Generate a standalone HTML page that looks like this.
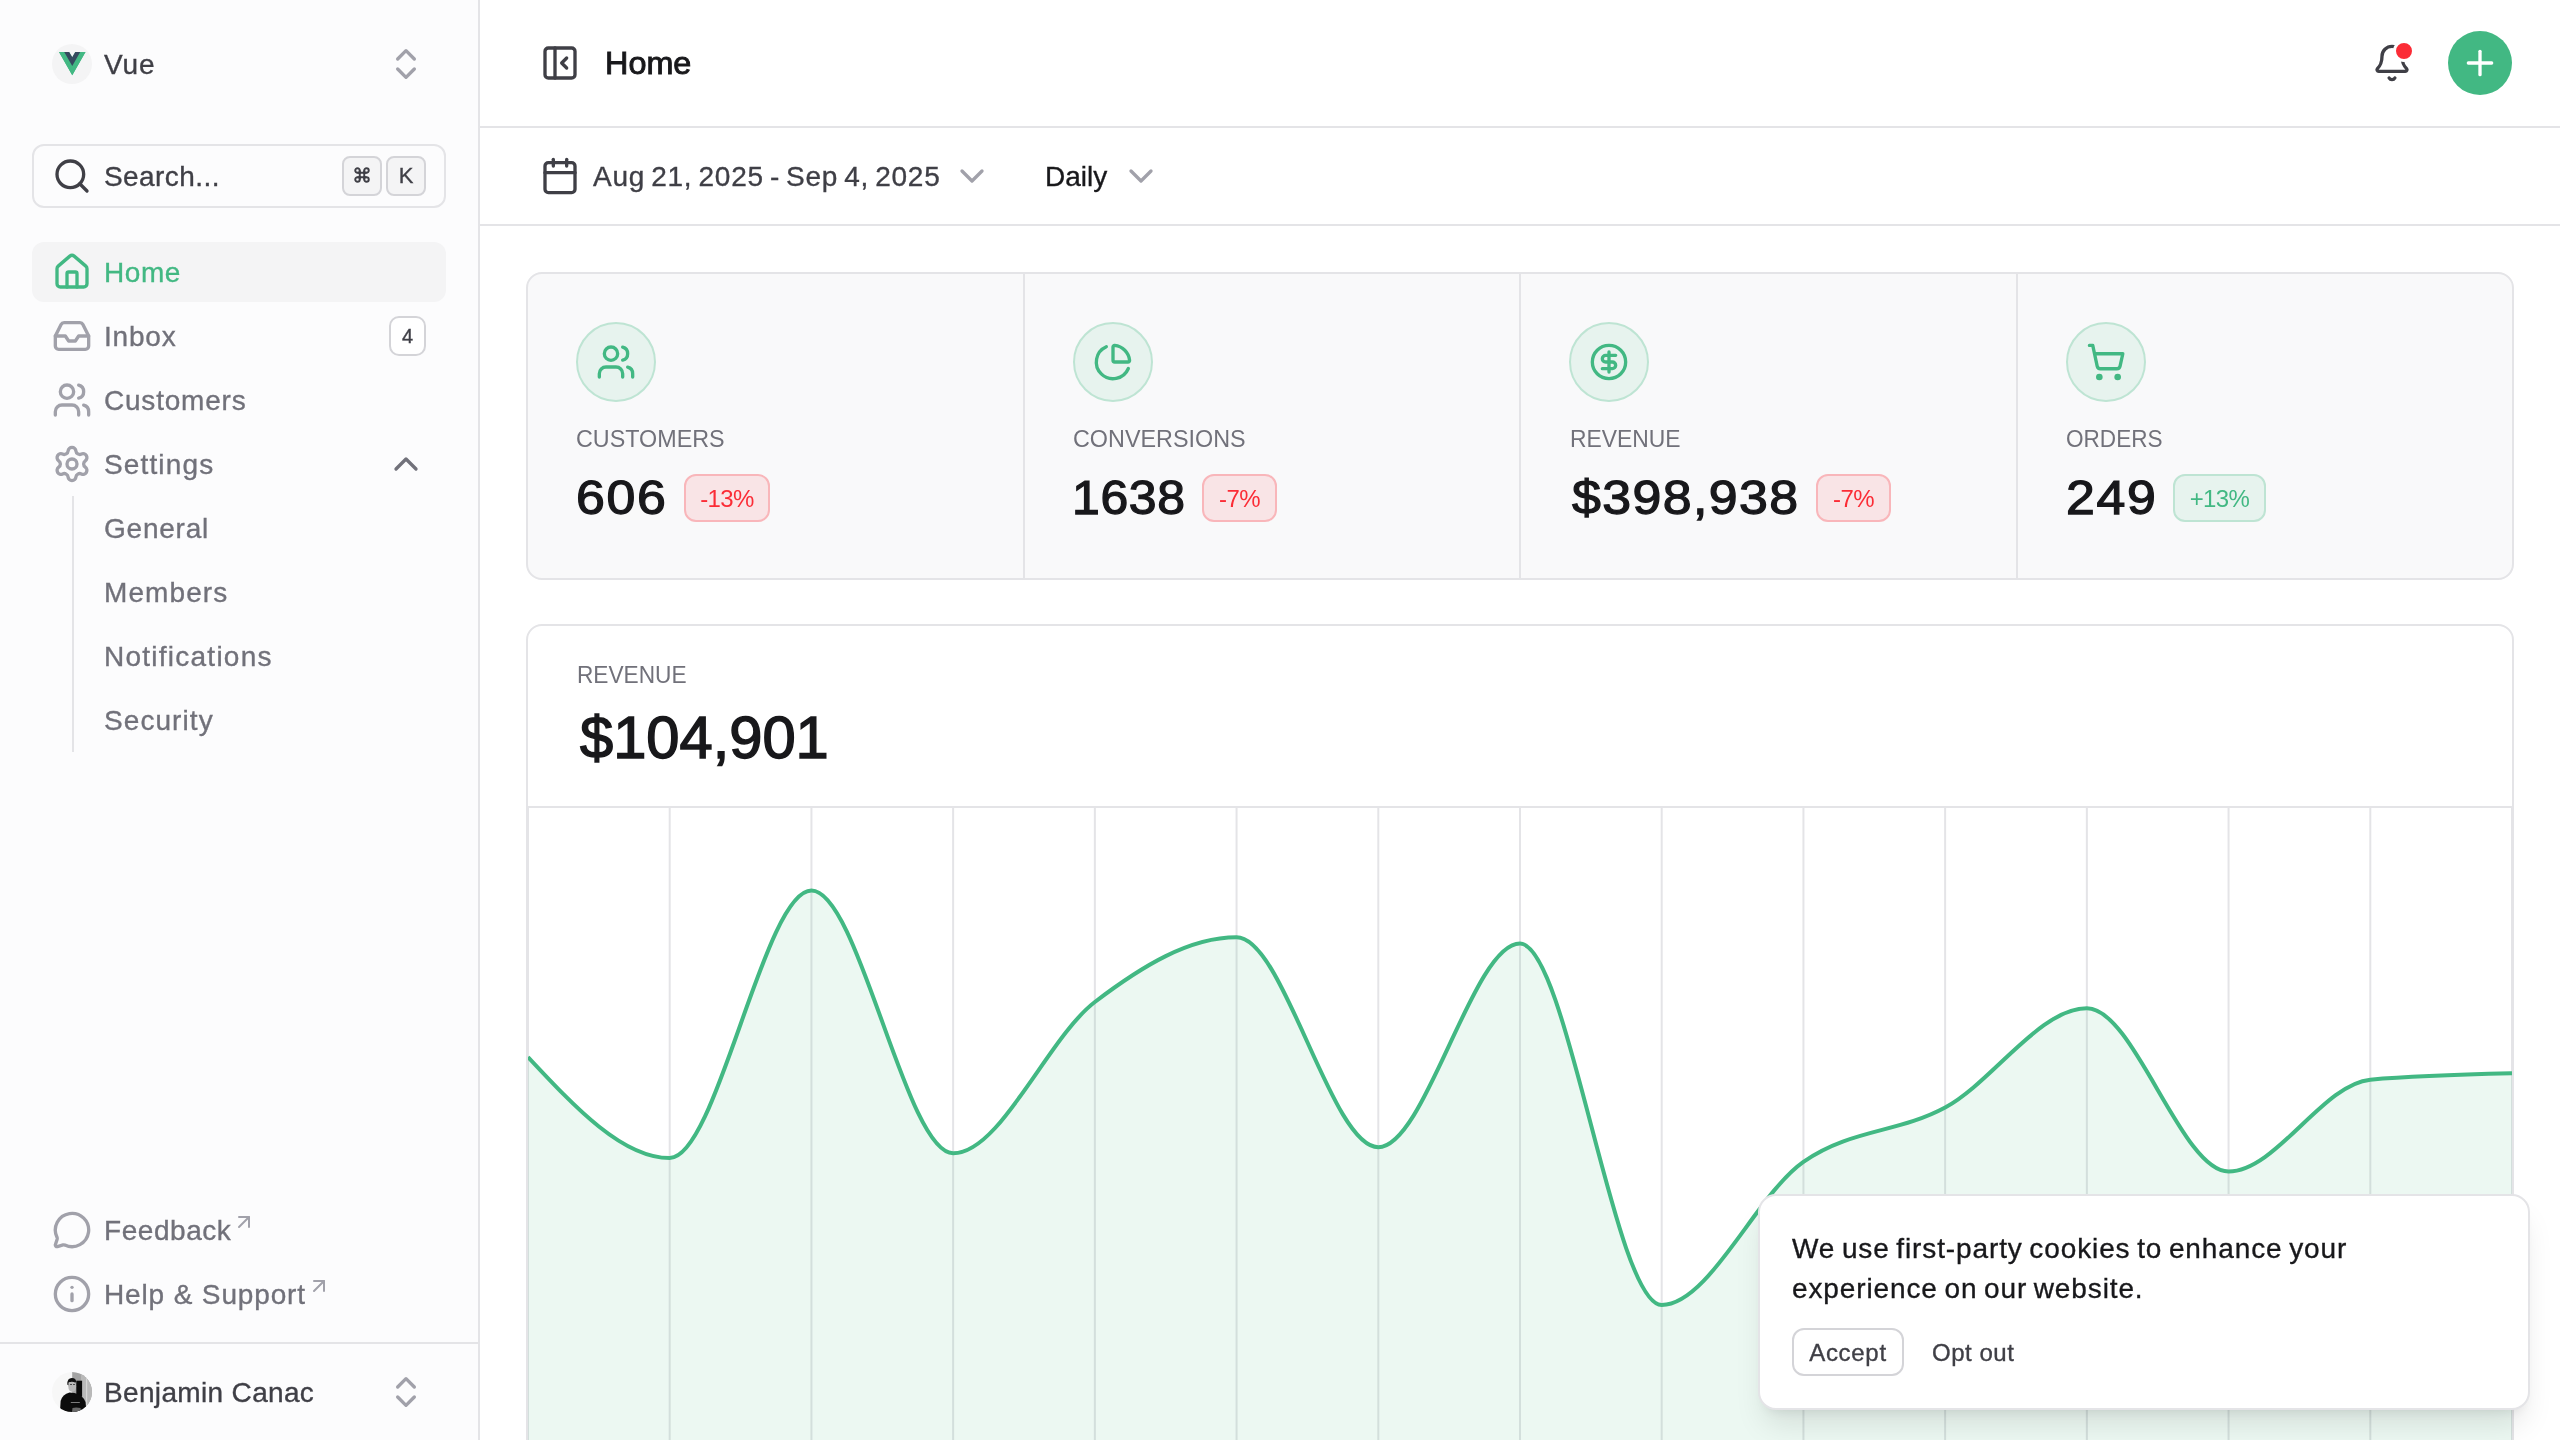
<!DOCTYPE html>
<html lang="en">
<head>
<meta charset="utf-8">
<title>Home</title>
<style>
*{box-sizing:border-box;margin:0;padding:0}
html,body{width:2560px;height:1440px;overflow:hidden;background:#fff}
body{font-family:"Liberation Sans",sans-serif;color:#3f3f46;position:relative;-webkit-font-smoothing:antialiased}
.abs{position:absolute}
svg.i{position:absolute;width:40px;height:40px;fill:none;stroke:currentColor;stroke-width:2;stroke-linecap:round;stroke-linejoin:round}
.t28{position:absolute;font-size:28px;line-height:40px;white-space:nowrap;margin-top:1px}
.med{-webkit-text-stroke:0.35px currentColor}
#sb{position:absolute;left:0;top:0;width:480px;height:1440px;background:#fcfcfd;border-right:2px solid #e4e4e7}
.navtxt{color:#71717a}
.navico{color:#a1a1aa}
.kbd{position:absolute;top:156px;width:40px;height:40px;background:#f4f4f5;border:2px solid #d4d4d8;border-radius:8px;font-size:22px;line-height:36px;text-align:center;color:#3f3f46}
#main{position:absolute;left:480px;top:0;width:2080px;height:1440px;background:#fff}
.hline{position:absolute;height:2px;background:#e4e4e7}
.card{position:absolute}
.lbl{position:absolute;transform-origin:0 50%;font-size:24px;line-height:32px;color:#71717a;white-space:nowrap;text-transform:uppercase}
.val{position:absolute;transform-origin:0 50%;font-size:48px;line-height:64px;font-weight:400;-webkit-text-stroke:1.25px #18181b;color:#18181b;white-space:nowrap}
.badge{position:absolute;top:474px;height:48px;border-radius:12px;font-size:24px;line-height:46px;text-align:center;border:2px solid;white-space:nowrap;letter-spacing:-0.6px}
.bred{background:#f9e4e6;border-color:#f9b6ba;color:#fb2c36}
.bgrn{background:#e7f3ee;border-color:#bee4d3;color:#42b883}
.icirc{position:absolute;top:322px;width:80px;height:80px;border-radius:50%;background:#e7f3ee;border:2px solid #bee4d3;color:#42b883}
.icirc svg.i{left:18px;top:18px}
@media (max-width:1400px){html,body{width:1280px;height:720px}#root{zoom:0.5}}
</style>
</head>
<body>
<div id="root" style="position:absolute;left:0;top:0;width:2560px;height:1440px;will-change:transform">
<!-- SIDEBAR -->
<div id="sb">
  <!-- team -->
  <div class="abs" style="left:52px;top:44px;width:40px;height:40px;border-radius:50%;background:#f4f4f5"></div>
  <svg class="abs" style="left:58.6px;top:52px;overflow:visible" width="26.5" height="23.2" viewBox="0 0 256 221" preserveAspectRatio="none"><path fill="#42b883" d="M204.8 0H256L128 220.8L0 0h97.92L128 51.2L157.44 0h47.36Z"/><path fill="#42b883" d="m0 0l128 220.8L256 0h-51.2L128 132.48L50.56 0H0Z"/><path fill="#35495e" d="M50.56 0L128 133.12L204.8 0h-47.36L128 51.2L97.92 0H50.56Z"/></svg>
  <div class="t28 med" style="left:104px;top:44px;color:#3f3f46;letter-spacing:0.85px">Vue</div>
  <svg class="i" style="left:386px;top:44px;color:#a1a1aa" viewBox="0 0 24 24"><path d="m7 15 5 5 5-5"/><path d="m7 9 5-5 5 5"/></svg>

  <!-- search -->
  <div class="abs" style="left:32px;top:144px;width:414px;height:64px;border:2px solid #e4e4e7;border-radius:12px"></div>
  <svg class="i" style="left:52px;top:156px;color:#3f3f46" viewBox="0 0 24 24"><path d="m21 21-4.34-4.34"/><circle cx="11" cy="11" r="8"/></svg>
  <div class="t28 med" style="left:104px;top:156px;color:#3f3f46;letter-spacing:0.43px">Search...</div>
  <div class="kbd" style="left:342px"><svg style="position:absolute;left:9px;top:8px" width="18" height="18" viewBox="0 0 24 24" fill="none" stroke="#3f3f46" stroke-width="2.6"><path d="M9 6v12M15 6v12M6 9h12M6 15h12"/><path d="M9 9H6a3 3 0 1 1 3-3zM15 9V6a3 3 0 1 1 3 3zM15 15h3a3 3 0 1 1-3 3zM9 15v3a3 3 0 1 1-3-3z"/></svg></div>
  <div class="kbd med" style="left:386px">K</div>

  <!-- nav -->
  <div class="abs" style="left:32px;top:242px;width:414px;height:60px;background:#f4f4f5;border-radius:12px"></div>
  <svg class="i" style="left:52px;top:252px;color:#42b883" viewBox="0 0 24 24"><path d="M15 21v-8a1 1 0 0 0-1-1h-4a1 1 0 0 0-1 1v8"/><path d="M3 10a2 2 0 0 1 .709-1.528l7-5.999a2 2 0 0 1 2.582 0l7 5.999A2 2 0 0 1 21 10v9a2 2 0 0 1-2 2H5a2 2 0 0 1-2-2z"/></svg>
  <div class="t28 med" style="left:104px;top:252px;color:#42b883;letter-spacing:0.58px">Home</div>

  <svg class="i navico" style="left:52px;top:316px" viewBox="0 0 24 24"><polyline points="22 12 16 12 14 15 10 15 8 12 2 12"/><path d="M5.45 5.11 2 12v6a2 2 0 0 0 2 2h16a2 2 0 0 0 2-2v-6l-3.45-6.89A2 2 0 0 0 16.76 4H7.24a2 2 0 0 0-1.79 1.11z"/></svg>
  <div class="t28 navtxt med" style="left:104px;top:316px;letter-spacing:0.8px">Inbox</div>
  <div class="abs med" style="left:389px;top:316px;width:37px;height:40px;background:#fff;border:2px solid #d4d4d8;border-radius:10px;font-size:20px;line-height:36px;text-align:center;color:#3f3f46">4</div>

  <svg class="i navico" style="left:52px;top:380px" viewBox="0 0 24 24"><path d="M16 21v-2a4 4 0 0 0-4-4H6a4 4 0 0 0-4 4v2"/><path d="M16 3.128a4 4 0 0 1 0 7.744"/><path d="M22 21v-2a4 4 0 0 0-3-3.87"/><circle cx="9" cy="7" r="4"/></svg>
  <div class="t28 navtxt med" style="left:104px;top:380px;letter-spacing:0.79px">Customers</div>

  <svg class="i navico" style="left:52px;top:444px" viewBox="0 0 24 24"><path d="M9.671 4.136a2.34 2.34 0 0 1 4.659 0 2.34 2.34 0 0 0 3.319 1.915 2.34 2.34 0 0 1 2.33 4.033 2.34 2.34 0 0 0 0 3.831 2.34 2.34 0 0 1-2.33 4.033 2.34 2.34 0 0 0-3.319 1.915 2.34 2.34 0 0 1-4.659 0 2.34 2.34 0 0 0-3.32-1.915 2.34 2.34 0 0 1-2.33-4.033 2.34 2.34 0 0 0 0-3.831A2.34 2.34 0 0 1 6.35 6.051a2.34 2.34 0 0 0 3.319-1.915"/><circle cx="12" cy="12" r="3"/></svg>
  <div class="t28 navtxt med" style="left:104px;top:444px;letter-spacing:1.14px">Settings</div>
  <svg class="i" style="left:386px;top:444px;color:#71717a" viewBox="0 0 24 24"><path d="m18 15-6-6-6 6"/></svg>

  <div class="abs" style="left:72px;top:496px;width:2px;height:256px;background:#e4e4e7"></div>
  <div class="t28 navtxt med" style="left:104px;top:508px;letter-spacing:0.77px">General</div>
  <div class="t28 navtxt med" style="left:104px;top:572px;letter-spacing:1.1px">Members</div>
  <div class="t28 navtxt med" style="left:104px;top:636px;letter-spacing:1.25px">Notifications</div>
  <div class="t28 navtxt med" style="left:104px;top:700px;letter-spacing:1.07px">Security</div>

  <!-- footer links -->
  <svg class="i navico" style="left:52px;top:1210px" viewBox="0 0 24 24"><path d="M2.992 16.342a2 2 0 0 1 .094 1.167l-1.065 3.29a1 1 0 0 0 1.236 1.168l3.413-.998a2 2 0 0 1 1.099.092 10 10 0 1 0-4.777-4.719"/></svg>
  <div class="t28 navtxt med" style="left:104px;top:1210px;letter-spacing:0.55px">Feedback</div>
  <svg class="abs" style="left:232px;top:1210px;color:#a1a1aa" width="24" height="24" viewBox="0 0 24 24" fill="none" stroke="currentColor" stroke-width="2" stroke-linecap="round" stroke-linejoin="round"><path d="M7 7h10v10"/><path d="M7 17 17 7"/></svg>

  <svg class="i navico" style="left:52px;top:1274px" viewBox="0 0 24 24"><circle cx="12" cy="12" r="10"/><path d="M12 16v-4"/><path d="M12 8h.01"/></svg>
  <div class="t28 navtxt med" style="left:104px;top:1274px;letter-spacing:0.86px">Help &amp; Support</div>
  <svg class="abs" style="left:307px;top:1274px;color:#a1a1aa" width="24" height="24" viewBox="0 0 24 24" fill="none" stroke="currentColor" stroke-width="2" stroke-linecap="round" stroke-linejoin="round"><path d="M7 7h10v10"/><path d="M7 17 17 7"/></svg>

  <div class="hline" style="left:0;top:1342px;width:478px"></div>
  <!-- user -->
  <svg class="abs" style="left:52px;top:1372px" width="40" height="40" viewBox="0 0 40 40">
    <defs><clipPath id="avc"><circle cx="20" cy="20" r="20"/></clipPath></defs>
    <g clip-path="url(#avc)">
      <rect width="40" height="40" fill="#f7f7f7"/>
      <rect x="20.2" y="0" width="20" height="40" fill="#a4a4a4"/>
      <rect x="29" y="0" width="11" height="40" fill="#b9b9b9"/>
      <rect x="34" y="4" width="1.2" height="30" fill="#d6d6d6"/>
      <rect x="24.3" y="8.7" width="5.8" height="16" fill="#0a0a0a"/>
      <ellipse cx="20.2" cy="14.4" rx="3.9" ry="5.3" fill="#b8b8b8"/>
      <path d="M15.3 12.5 Q15.2 6 20 6.1 Q24 6.3 24.2 10 L23.2 10.6 Q20 9 16.6 10.6 L16.5 13.5 Z" fill="#111"/>
      <rect x="18.2" y="12" width="1.6" height="1" fill="#333"/>
      <rect x="21.2" y="12" width="1.6" height="1" fill="#333"/>
      <path d="M8 40 L8.6 29 Q10.5 22.5 17.5 20.6 L22.5 21 Q30.5 22.5 33.5 30 L34.5 40 Z" fill="#0c0c0c"/>
      <rect x="18.8" y="30" width="9" height="0.9" fill="#8a8a8a"/>
      <path d="M20 40 L20.5 36 Q24 35 28.5 36 L29 40 Z" fill="#6a6a6a"/>
    </g>
  </svg>
  <div class="t28 med" style="left:104px;top:1372px;color:#3f3f46;letter-spacing:0.34px">Benjamin Canac</div>
  <svg class="i" style="left:386px;top:1372px;color:#a1a1aa" viewBox="0 0 24 24"><path d="m7 15 5 5 5-5"/><path d="m7 9 5-5 5 5"/></svg>
</div>

<!-- MAIN -->
<div id="main"></div>
<!-- navbar -->
<div class="hline" style="left:480px;top:126px;width:2080px"></div>
<svg class="i" style="left:540px;top:43px;color:#3f3f46" viewBox="0 0 24 24"><rect width="18" height="18" x="3" y="3" rx="2"/><path d="M9 3v18"/><path d="m16 15-3-3 3-3"/></svg>
<div class="abs" style="left:605px;top:43px;font-size:32px;line-height:40px;font-weight:400;-webkit-text-stroke:0.9px #18181b;color:#18181b;transform:scaleX(1.012);transform-origin:0 50%;transform-origin:0 50%">Home</div>
<svg class="i" style="left:2372px;top:43px;color:#3f3f46" viewBox="0 0 24 24"><path d="M10.268 21a2 2 0 0 0 3.464 0"/><path d="M3.262 15.326A1 1 0 0 0 4 17h16a1 1 0 0 0 .74-1.673C19.41 13.956 18 12.499 18 8A6 6 0 0 0 6 8c0 4.499-1.411 5.956-2.738 7.326"/></svg>
<div class="abs" style="left:2393px;top:40px;width:22px;height:22px;border-radius:50%;background:#fb2c36;border:3px solid #fff"></div>
<div class="abs" style="left:2448px;top:31px;width:64px;height:64px;border-radius:50%;background:#42b883"></div>
<svg class="i" style="left:2460px;top:43px;color:#fff" viewBox="0 0 24 24"><path d="M5 12h14"/><path d="M12 5v14"/></svg>

<!-- toolbar -->
<div class="hline" style="left:480px;top:224px;width:2080px"></div>
<svg class="i" style="left:540px;top:156px;color:#3f3f46" viewBox="0 0 24 24"><path d="M8 2v4"/><path d="M16 2v4"/><rect width="18" height="18" x="3" y="4" rx="2"/><path d="M3 10h18"/></svg>
<div class="t28 med" style="left:593px;top:156px;color:#3f3f46;letter-spacing:0.77px;word-spacing:-2.5px">Aug 21, 2025 - Sep 4, 2025</div>
<svg class="i" style="left:952px;top:156px;color:#a1a1aa" viewBox="0 0 24 24"><path d="m6 9 6 6 6-6"/></svg>
<div class="t28 med" style="left:1045px;top:156px;color:#18181b">Daily</div>
<svg class="i" style="left:1121px;top:156px;color:#a1a1aa" viewBox="0 0 24 24"><path d="m6 9 6 6 6-6"/></svg>

<!-- stats -->
<div class="abs" style="left:526px;top:272px;width:1988px;height:308px;border:2px solid #e4e4e7;border-radius:16px;background:#f9f9fa"></div>
<div class="abs" style="left:1023px;top:274px;width:2px;height:304px;background:#e4e4e7"></div>
<div class="abs" style="left:1519px;top:274px;width:2px;height:304px;background:#e4e4e7"></div>
<div class="abs" style="left:2016px;top:274px;width:2px;height:304px;background:#e4e4e7"></div>

<div class="icirc" style="left:576px"><svg class="i" viewBox="0 0 24 24"><path d="M16 21v-2a4 4 0 0 0-4-4H6a4 4 0 0 0-4 4v2"/><path d="M16 3.128a4 4 0 0 1 0 7.744"/><path d="M22 21v-2a4 4 0 0 0-3-3.87"/><circle cx="9" cy="7" r="4"/></svg></div>
<div class="lbl" style="left:576px;top:423px;transform:scaleX(0.972)">Customers</div>
<div class="val" style="left:576px;top:466px;letter-spacing:1.6px;transform:scaleX(1.08)">606</div>
<div class="badge bred" style="left:684px;width:86px">-13%</div>

<div class="icirc" style="left:1073px"><svg class="i" viewBox="0 0 24 24"><path d="M21 12c.552 0 1.005-.449.95-.998a10 10 0 0 0-8.953-8.951c-.55-.055-.998.398-.998.95v8a1 1 0 0 0 1 1z"/><path d="M21.21 15.89A10 10 0 1 1 8 2.83"/></svg></div>
<div class="lbl" style="left:1073px;top:423px;transform:scaleX(0.973)">Conversions</div>
<div class="val" style="left:1072px;top:466px;letter-spacing:0.6px;transform:scaleX(1.04)">1638</div>
<div class="badge bred" style="left:1202px;width:75px">-7%</div>

<div class="icirc" style="left:1569px"><svg class="i" viewBox="0 0 24 24"><circle cx="12" cy="12" r="10"/><path d="M16 8h-6a2 2 0 1 0 0 4h4a2 2 0 1 1 0 4H8"/><path d="M12 18V6"/></svg></div>
<div class="lbl" style="left:1570px;top:423px;transform:scaleX(0.953)">Revenue</div>
<div class="val" style="left:1572px;top:466px;letter-spacing:1.32px;transform:scaleX(1.08)">$398,938</div>
<div class="badge bred" style="left:1816px;width:75px">-7%</div>

<div class="icirc" style="left:2066px"><svg class="i" viewBox="0 0 24 24"><circle cx="8" cy="21" r="1"/><circle cx="19" cy="21" r="1"/><path d="M2.05 2.05h2l2.66 12.42a2 2 0 0 0 2 1.58h9.78a2 2 0 0 0 1.95-1.57l1.65-7.43H5.12"/></svg></div>
<div class="lbl" style="left:2066px;top:423px;transform:scaleX(0.94)">Orders</div>
<div class="val" style="left:2066px;top:466px;letter-spacing:1.6px;transform:scaleX(1.08)">249</div>
<div class="badge bgrn" style="left:2173px;width:93px">+13%</div>

<!-- revenue chart card -->
<div class="abs" style="left:526px;top:624px;width:1988px;height:900px;border:2px solid #e4e4e7;border-radius:16px;background:#fff;overflow:hidden">
</div>
<div class="lbl" style="left:577px;top:659px;transform:scaleX(0.944)">Revenue</div>
<div class="abs" style="left:580px;top:702px;font-size:60px;line-height:72px;font-weight:400;-webkit-text-stroke:1.5px #18181b;color:#18181b;transform:scaleX(0.994);transform-origin:0 50%">$104,901</div>
<div class="hline" style="left:528px;top:806px;width:1984px"></div>
<svg class="abs" style="left:528px;top:808px" width="1984" height="632" viewBox="528 808 1984 632">
<g stroke="#e4e4e7" stroke-width="2"><line x1="528.00" y1="808" x2="528.00" y2="1600"/><line x1="669.71" y1="808" x2="669.71" y2="1600"/><line x1="811.43" y1="808" x2="811.43" y2="1600"/><line x1="953.14" y1="808" x2="953.14" y2="1600"/><line x1="1094.86" y1="808" x2="1094.86" y2="1600"/><line x1="1236.57" y1="808" x2="1236.57" y2="1600"/><line x1="1378.29" y1="808" x2="1378.29" y2="1600"/><line x1="1520.00" y1="808" x2="1520.00" y2="1600"/><line x1="1661.71" y1="808" x2="1661.71" y2="1600"/><line x1="1803.43" y1="808" x2="1803.43" y2="1600"/><line x1="1945.14" y1="808" x2="1945.14" y2="1600"/><line x1="2086.86" y1="808" x2="2086.86" y2="1600"/><line x1="2228.57" y1="808" x2="2228.57" y2="1600"/><line x1="2370.29" y1="808" x2="2370.29" y2="1600"/><line x1="2512.00" y1="808" x2="2512.00" y2="1600"/></g>
<path id="area" fill="#42b883" fill-opacity="0.1" d="M528.00,1057.00C575.24,1107.50,622.48,1158.00,669.71,1158.00C716.95,1158.00,764.19,890.50,811.43,890.50C858.67,890.50,905.90,1153.30,953.14,1153.30C1000.38,1153.30,1047.62,1038.00,1094.86,1002.00C1142.10,966.00,1189.33,937.30,1236.57,937.30C1283.81,937.30,1331.05,1147.20,1378.29,1147.20C1425.52,1147.20,1472.76,943.60,1520.00,943.60C1567.24,943.60,1614.48,1305.00,1661.71,1305.00C1708.95,1305.00,1756.19,1194.72,1803.43,1161.80C1850.67,1128.88,1897.90,1133.08,1945.14,1107.50C1992.38,1081.92,2039.62,1008.30,2086.86,1008.30C2134.10,1008.30,2181.33,1171.50,2228.57,1171.50C2275.81,1171.50,2323.05,1083.97,2370.29,1079.70C2417.52,1075.43,2464.76,1074.37,2512.00,1073.30L2512,1600L528,1600Z"/>
<path id="line" fill="none" stroke="#42b883" stroke-width="4" d="M528.00,1057.00C575.24,1107.50,622.48,1158.00,669.71,1158.00C716.95,1158.00,764.19,890.50,811.43,890.50C858.67,890.50,905.90,1153.30,953.14,1153.30C1000.38,1153.30,1047.62,1038.00,1094.86,1002.00C1142.10,966.00,1189.33,937.30,1236.57,937.30C1283.81,937.30,1331.05,1147.20,1378.29,1147.20C1425.52,1147.20,1472.76,943.60,1520.00,943.60C1567.24,943.60,1614.48,1305.00,1661.71,1305.00C1708.95,1305.00,1756.19,1194.72,1803.43,1161.80C1850.67,1128.88,1897.90,1133.08,1945.14,1107.50C1992.38,1081.92,2039.62,1008.30,2086.86,1008.30C2134.10,1008.30,2181.33,1171.50,2228.57,1171.50C2275.81,1171.50,2323.05,1083.97,2370.29,1079.70C2417.52,1075.43,2464.76,1074.37,2512.00,1073.30"/>
</svg>


<div class="abs" style="left:1758px;top:1194px;width:772px;height:216px;border:2px solid #e4e4e7;border-radius:18px;background:#fff;box-shadow:0 20px 30px -6px rgba(0,0,0,.1),0 8px 12px -8px rgba(0,0,0,.1)"></div>
<div class="abs med" style="left:1792px;top:1229px;font-size:28px;line-height:40px;color:#18181b;white-space:nowrap;letter-spacing:0.88px;word-spacing:-2px">We use first-party cookies to enhance your<br>experience on our website.</div>
<div class="abs med" style="left:1792px;top:1328px;width:112px;height:48px;border:2px solid #d4d4d8;border-radius:12px;font-size:24px;line-height:46px;text-align:center;color:#3f3f46;letter-spacing:0.7px">Accept</div>
<div class="abs med" style="left:1932px;top:1329px;font-size:24px;line-height:48px;color:#3f3f46;letter-spacing:0.53px">Opt out</div>

</div>
</body>
</html>
